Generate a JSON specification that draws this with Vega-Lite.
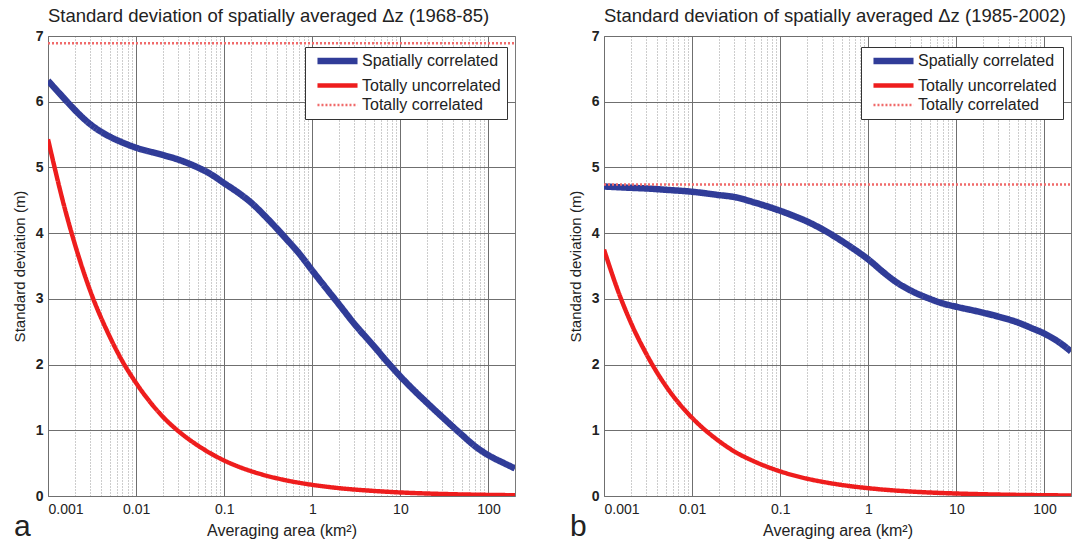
{
  "$schema": "https://vega.github.io/schema/vega-lite/v6.json",
  "padding": {"left": 11, "top": 6, "right": 0, "bottom": 0},
  "spacing": 51,
  "config": {
    "font": "Liberation Sans",
    "view": {"stroke": "#7a7a7a", "strokeWidth": 1},
    "axis": {"labelFont": "Liberation Sans", "titleFont": "Liberation Sans", "labelColor": "#222", "titleColor": "#222", "titleFontWeight": "normal"},
    "legend": {"labelFont": "Liberation Sans"}
  },
  "datasets": {
    "a": [
      {"series": "Spatially correlated", "area": 0.001, "sd": 6.32},
      {"series": "Spatially correlated", "area": 0.0015, "sd": 6.06},
      {"series": "Spatially correlated", "area": 0.002, "sd": 5.88},
      {"series": "Spatially correlated", "area": 0.003, "sd": 5.66},
      {"series": "Spatially correlated", "area": 0.005, "sd": 5.47},
      {"series": "Spatially correlated", "area": 0.007, "sd": 5.38},
      {"series": "Spatially correlated", "area": 0.01, "sd": 5.3},
      {"series": "Spatially correlated", "area": 0.02, "sd": 5.19},
      {"series": "Spatially correlated", "area": 0.03, "sd": 5.12},
      {"series": "Spatially correlated", "area": 0.05, "sd": 5.0},
      {"series": "Spatially correlated", "area": 0.07, "sd": 4.9},
      {"series": "Spatially correlated", "area": 0.1, "sd": 4.76},
      {"series": "Spatially correlated", "area": 0.15, "sd": 4.6},
      {"series": "Spatially correlated", "area": 0.2, "sd": 4.47},
      {"series": "Spatially correlated", "area": 0.3, "sd": 4.24},
      {"series": "Spatially correlated", "area": 0.5, "sd": 3.92},
      {"series": "Spatially correlated", "area": 0.7, "sd": 3.7},
      {"series": "Spatially correlated", "area": 1, "sd": 3.43},
      {"series": "Spatially correlated", "area": 1.5, "sd": 3.13},
      {"series": "Spatially correlated", "area": 2, "sd": 2.92},
      {"series": "Spatially correlated", "area": 3, "sd": 2.62},
      {"series": "Spatially correlated", "area": 5, "sd": 2.28},
      {"series": "Spatially correlated", "area": 7, "sd": 2.05},
      {"series": "Spatially correlated", "area": 10, "sd": 1.82},
      {"series": "Spatially correlated", "area": 15, "sd": 1.58},
      {"series": "Spatially correlated", "area": 20, "sd": 1.42},
      {"series": "Spatially correlated", "area": 30, "sd": 1.2},
      {"series": "Spatially correlated", "area": 50, "sd": 0.93},
      {"series": "Spatially correlated", "area": 70, "sd": 0.76},
      {"series": "Spatially correlated", "area": 100, "sd": 0.62},
      {"series": "Spatially correlated", "area": 150, "sd": 0.5},
      {"series": "Spatially correlated", "area": 200, "sd": 0.42},
      {"series": "Totally uncorrelated", "area": 0.001, "sd": 5.43},
      {"series": "Totally uncorrelated", "area": 0.0015, "sd": 4.45},
      {"series": "Totally uncorrelated", "area": 0.002, "sd": 3.85},
      {"series": "Totally uncorrelated", "area": 0.003, "sd": 3.13},
      {"series": "Totally uncorrelated", "area": 0.005, "sd": 2.43},
      {"series": "Totally uncorrelated", "area": 0.007, "sd": 2.05},
      {"series": "Totally uncorrelated", "area": 0.01, "sd": 1.72},
      {"series": "Totally uncorrelated", "area": 0.02, "sd": 1.21},
      {"series": "Totally uncorrelated", "area": 0.03, "sd": 0.99},
      {"series": "Totally uncorrelated", "area": 0.05, "sd": 0.77},
      {"series": "Totally uncorrelated", "area": 0.1, "sd": 0.54},
      {"series": "Totally uncorrelated", "area": 0.2, "sd": 0.38},
      {"series": "Totally uncorrelated", "area": 0.3, "sd": 0.31},
      {"series": "Totally uncorrelated", "area": 0.5, "sd": 0.24},
      {"series": "Totally uncorrelated", "area": 1, "sd": 0.17},
      {"series": "Totally uncorrelated", "area": 2, "sd": 0.12},
      {"series": "Totally uncorrelated", "area": 5, "sd": 0.077},
      {"series": "Totally uncorrelated", "area": 10, "sd": 0.054},
      {"series": "Totally uncorrelated", "area": 20, "sd": 0.038},
      {"series": "Totally uncorrelated", "area": 50, "sd": 0.024},
      {"series": "Totally uncorrelated", "area": 100, "sd": 0.017},
      {"series": "Totally uncorrelated", "area": 200, "sd": 0.012},
      {"series": "Totally correlated", "area": 0.001, "sd": 6.89},
      {"series": "Totally correlated", "area": 200, "sd": 6.89}
    ],
    "b": [
      {"series": "Spatially correlated", "area": 0.001, "sd": 4.71},
      {"series": "Spatially correlated", "area": 0.002, "sd": 4.69},
      {"series": "Spatially correlated", "area": 0.003, "sd": 4.68},
      {"series": "Spatially correlated", "area": 0.005, "sd": 4.66},
      {"series": "Spatially correlated", "area": 0.01, "sd": 4.63},
      {"series": "Spatially correlated", "area": 0.02, "sd": 4.58},
      {"series": "Spatially correlated", "area": 0.03, "sd": 4.55},
      {"series": "Spatially correlated", "area": 0.05, "sd": 4.47},
      {"series": "Spatially correlated", "area": 0.07, "sd": 4.41},
      {"series": "Spatially correlated", "area": 0.1, "sd": 4.34},
      {"series": "Spatially correlated", "area": 0.15, "sd": 4.25},
      {"series": "Spatially correlated", "area": 0.2, "sd": 4.18},
      {"series": "Spatially correlated", "area": 0.3, "sd": 4.06},
      {"series": "Spatially correlated", "area": 0.5, "sd": 3.88},
      {"series": "Spatially correlated", "area": 0.7, "sd": 3.75},
      {"series": "Spatially correlated", "area": 1, "sd": 3.6},
      {"series": "Spatially correlated", "area": 1.5, "sd": 3.4},
      {"series": "Spatially correlated", "area": 2, "sd": 3.27},
      {"series": "Spatially correlated", "area": 3, "sd": 3.13},
      {"series": "Spatially correlated", "area": 5, "sd": 3.0},
      {"series": "Spatially correlated", "area": 7, "sd": 2.93},
      {"series": "Spatially correlated", "area": 10, "sd": 2.88},
      {"series": "Spatially correlated", "area": 20, "sd": 2.79},
      {"series": "Spatially correlated", "area": 30, "sd": 2.73},
      {"series": "Spatially correlated", "area": 50, "sd": 2.64},
      {"series": "Spatially correlated", "area": 70, "sd": 2.56},
      {"series": "Spatially correlated", "area": 100, "sd": 2.47},
      {"series": "Spatially correlated", "area": 150, "sd": 2.33},
      {"series": "Spatially correlated", "area": 200, "sd": 2.2},
      {"series": "Totally uncorrelated", "area": 0.001, "sd": 3.75},
      {"series": "Totally uncorrelated", "area": 0.0015, "sd": 3.06},
      {"series": "Totally uncorrelated", "area": 0.002, "sd": 2.65},
      {"series": "Totally uncorrelated", "area": 0.003, "sd": 2.17},
      {"series": "Totally uncorrelated", "area": 0.005, "sd": 1.68},
      {"series": "Totally uncorrelated", "area": 0.007, "sd": 1.42},
      {"series": "Totally uncorrelated", "area": 0.01, "sd": 1.19},
      {"series": "Totally uncorrelated", "area": 0.02, "sd": 0.84},
      {"series": "Totally uncorrelated", "area": 0.03, "sd": 0.68},
      {"series": "Totally uncorrelated", "area": 0.05, "sd": 0.53},
      {"series": "Totally uncorrelated", "area": 0.1, "sd": 0.375},
      {"series": "Totally uncorrelated", "area": 0.2, "sd": 0.265},
      {"series": "Totally uncorrelated", "area": 0.3, "sd": 0.217},
      {"series": "Totally uncorrelated", "area": 0.5, "sd": 0.168},
      {"series": "Totally uncorrelated", "area": 1, "sd": 0.119},
      {"series": "Totally uncorrelated", "area": 2, "sd": 0.084},
      {"series": "Totally uncorrelated", "area": 5, "sd": 0.053},
      {"series": "Totally uncorrelated", "area": 10, "sd": 0.038},
      {"series": "Totally uncorrelated", "area": 20, "sd": 0.027},
      {"series": "Totally uncorrelated", "area": 50, "sd": 0.017},
      {"series": "Totally uncorrelated", "area": 100, "sd": 0.012},
      {"series": "Totally uncorrelated", "area": 200, "sd": 0.008},
      {"series": "Totally correlated", "area": 0.001, "sd": 4.74},
      {"series": "Totally correlated", "area": 200, "sd": 4.74}
    ],
    "labelA": [{"label": "a"}],
    "labelB": [{"label": "b"}]
  },
  "resolve": {"legend": {"color": "independent", "strokeDash": "independent", "strokeWidth": "independent"}},
  "hconcat": [
    {
      "width": 467,
      "height": 460,
      "title": {"text": "Standard deviation of spatially averaged Δz (1968-85)", "anchor": "start", "frame": "group", "fontSize": 18.5, "fontWeight": "normal", "font": "Liberation Sans", "color": "#222", "offset": 4},
      "layer": [
        {
          "data": {"name": "labelA"},
          "mark": {"type": "text", "fontSize": 30, "font": "Liberation Sans", "align": "left", "baseline": "alphabetic", "dx": -34, "dy": 40, "color": "#222"},
          "encoding": {
            "text": {"field": "label", "type": "nominal"},
            "x": {"datum": 0.001, "type": "quantitative", "axis": {"orient": "top", "values": [0.002,0.003,0.004,0.005,0.006,0.007,0.008,0.009,0.02,0.03,0.04,0.05,0.06,0.07,0.08,0.09,0.2,0.3,0.4,0.5,0.6,0.7,0.8,0.9,2,3,4,5,6,7,8,9,20,30,40,50,60,70,80,90], "grid": true, "gridDash": [1, 2], "gridColor": "#9a9a9a", "gridWidth": 1, "labels": false, "ticks": false, "domain": false, "title": null}},
            "y": {"datum": 0, "type": "quantitative"}
          }
        },
        {
          "data": {"name": "a"},
          "mark": {"type": "line", "interpolate": "monotone", "clip": true},
          "encoding": {
            "x": {"field": "area", "type": "quantitative", "scale": {"type": "log", "domain": [0.001, 200], "nice": false},
              "axis": {"orient": "bottom", "values": [0.001, 0.01, 0.1, 1, 10, 100], "labelExpr": "datum.value == 0.001 ? '0.001' : datum.value == 0.01 ? '0.01' : datum.value == 0.1 ? '0.1' : format(datum.value, 'd')", "grid": true, "gridColor": "#6f6f6f", "gridWidth": 1, "ticks": false, "domain": false, "labelFontSize": 14, "labelPadding": 6, "titleFontSize": 16, "titlePadding": 6, "title": "Averaging area (km²)"}},
            "y": {"field": "sd", "type": "quantitative", "scale": {"domain": [0, 7], "nice": false},
              "axis": {"values": [0,1,2,3,4,5,6,7], "format": "d", "grid": true, "gridColor": "#6f6f6f", "gridWidth": 1, "ticks": false, "domain": false, "labelFontSize": 14, "labelFontWeight": "bold", "labelPadding": 5, "titleFontSize": 15, "titlePadding": 8, "title": "Standard deviation (m)"}},
            "color": {"field": "series", "type": "nominal", "scale": {"domain": ["Spatially correlated", "Totally uncorrelated", "Totally correlated"], "range": ["#303c98", "#ee1d1d", "#f06a6a"]},
              "legend": {"title": null, "orient": "none", "legendX": 257, "legendY": 11, "fillColor": "white", "strokeColor": "#333", "padding": 6, "labelFontSize": 16, "labelColor": "#222", "symbolType": "M-4.45,0H4.45", "symbolSize": 81, "symbolOffset": 18.5, "rowPadding": 2.5, "labelOffset": 16.5}},
            "strokeDash": {"field": "series", "type": "nominal", "scale": {"domain": ["Spatially correlated", "Totally uncorrelated", "Totally correlated"], "range": [[1, 0], [1, 0], [2, 2]]}, "legend": {"title": null}},
            "strokeWidth": {"field": "series", "type": "nominal", "scale": {"domain": ["Spatially correlated", "Totally uncorrelated", "Totally correlated"], "range": [6.5, 2.4, 1.5]}, "legend": {"title": null}}
          }
        }
      ]
    },
    {
      "width": 467,
      "height": 460,
      "title": {"text": "Standard deviation of spatially averaged Δz (1985-2002)", "anchor": "start", "frame": "group", "fontSize": 18.5, "fontWeight": "normal", "font": "Liberation Sans", "color": "#222", "offset": 4},
      "layer": [
        {
          "data": {"name": "labelB"},
          "mark": {"type": "text", "fontSize": 30, "font": "Liberation Sans", "align": "left", "baseline": "alphabetic", "dx": -34, "dy": 40, "color": "#222"},
          "encoding": {
            "text": {"field": "label", "type": "nominal"},
            "x": {"datum": 0.001, "type": "quantitative", "axis": {"orient": "top", "values": [0.002,0.003,0.004,0.005,0.006,0.007,0.008,0.009,0.02,0.03,0.04,0.05,0.06,0.07,0.08,0.09,0.2,0.3,0.4,0.5,0.6,0.7,0.8,0.9,2,3,4,5,6,7,8,9,20,30,40,50,60,70,80,90], "grid": true, "gridDash": [1, 2], "gridColor": "#9a9a9a", "gridWidth": 1, "labels": false, "ticks": false, "domain": false, "title": null}},
            "y": {"datum": 0, "type": "quantitative"}
          }
        },
        {
          "data": {"name": "b"},
          "mark": {"type": "line", "interpolate": "monotone", "clip": true},
          "encoding": {
            "x": {"field": "area", "type": "quantitative", "scale": {"type": "log", "domain": [0.001, 200], "nice": false},
              "axis": {"orient": "bottom", "values": [0.001, 0.01, 0.1, 1, 10, 100], "labelExpr": "datum.value == 0.001 ? '0.001' : datum.value == 0.01 ? '0.01' : datum.value == 0.1 ? '0.1' : format(datum.value, 'd')", "grid": true, "gridColor": "#6f6f6f", "gridWidth": 1, "ticks": false, "domain": false, "labelFontSize": 14, "labelPadding": 6, "titleFontSize": 16, "titlePadding": 6, "title": "Averaging area (km²)"}},
            "y": {"field": "sd", "type": "quantitative", "scale": {"domain": [0, 7], "nice": false},
              "axis": {"values": [0,1,2,3,4,5,6,7], "format": "d", "grid": true, "gridColor": "#6f6f6f", "gridWidth": 1, "ticks": false, "domain": false, "labelFontSize": 14, "labelFontWeight": "bold", "labelPadding": 5, "titleFontSize": 15, "titlePadding": 8, "title": "Standard deviation (m)"}},
            "color": {"field": "series", "type": "nominal", "scale": {"domain": ["Spatially correlated", "Totally uncorrelated", "Totally correlated"], "range": ["#303c98", "#ee1d1d", "#f06a6a"]},
              "legend": {"title": null, "orient": "none", "legendX": 257, "legendY": 11, "fillColor": "white", "strokeColor": "#333", "padding": 6, "labelFontSize": 16, "labelColor": "#222", "symbolType": "M-4.45,0H4.45", "symbolSize": 81, "symbolOffset": 18.5, "rowPadding": 2.5, "labelOffset": 16.5}},
            "strokeDash": {"field": "series", "type": "nominal", "scale": {"domain": ["Spatially correlated", "Totally uncorrelated", "Totally correlated"], "range": [[1, 0], [1, 0], [2, 2]]}, "legend": {"title": null}},
            "strokeWidth": {"field": "series", "type": "nominal", "scale": {"domain": ["Spatially correlated", "Totally uncorrelated", "Totally correlated"], "range": [6.5, 2.4, 1.5]}, "legend": {"title": null}}
          }
        }
      ]
    }
  ]
}
